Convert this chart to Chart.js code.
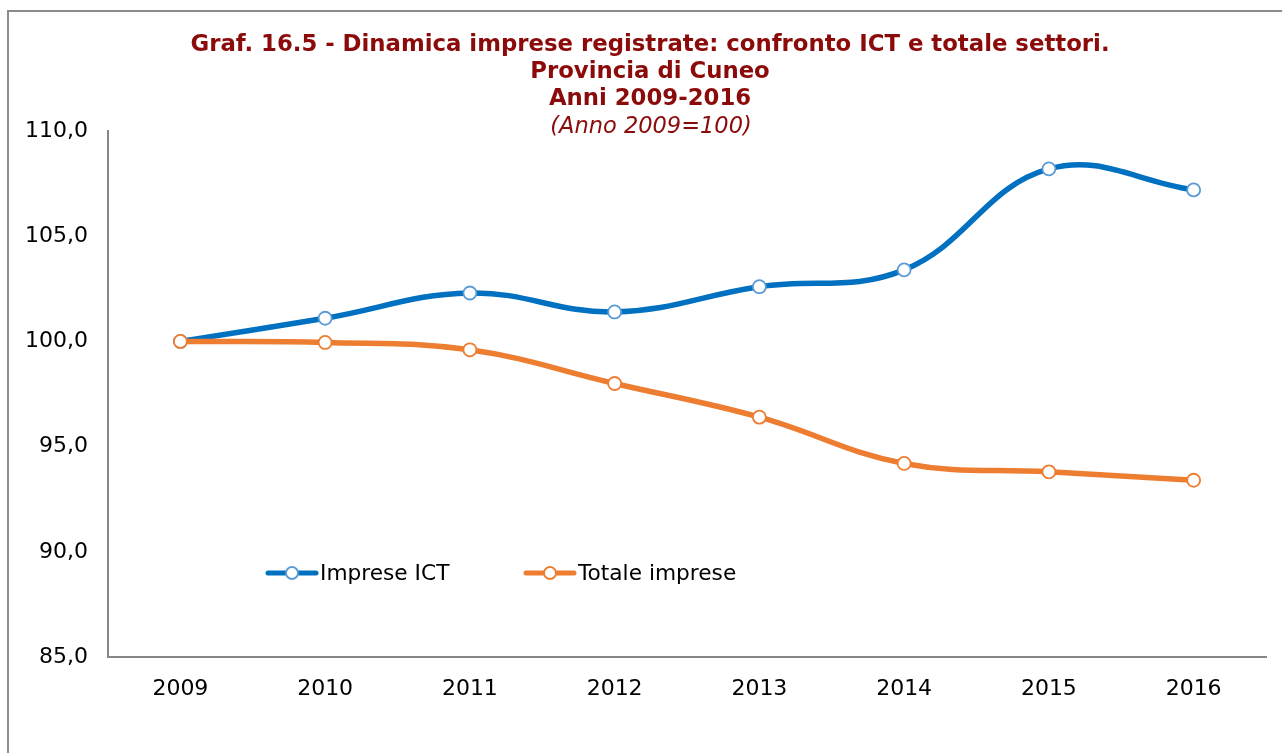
<!DOCTYPE html>
<html>
<head>
<meta charset="utf-8">
<script src="https://cdn.jsdelivr.net/npm/chart.js@4.4.0/dist/chart.umd.min.js"></script>
<style>
html,body{margin:0;padding:0;background:#fff;}
#wrap{position:relative;width:1282px;height:753px;}
</style>
</head>
<body>
<div id="wrap"><canvas id="c" width="1282" height="753"></canvas></div>
<script>
const categories = ["2009","2010","2011","2012","2013","2014","2015","2016"];
const ictValues = [100.0, 101.1, 102.3, 101.4, 102.6, 103.4, 108.2, 107.2];
const totaleValues = [100.0, 99.95, 99.6, 98.0, 96.4, 94.2, 93.8, 93.4];
const seriesNames = ["Imprese ICT", "Totale imprese"];
const titleLines = ["Graf. 16.5 - Dinamica imprese registrate: confronto ICT e totale settori.", "Provincia di Cuneo", "Anni 2009-2016"];
const subtitleText = "(Anno 2009=100)";
const yTicks = {min: 85, max: 110, step: 5};

const BLUE = "#0070C0", BLUE_PT = "#5B9BD5", ORANGE = "#ED7D31", TITLE_COL = "#8B0A0A";

const decor = {
  id: "decor",
  beforeDraw(chart) {
    const ctx = chart.ctx;
    ctx.save();
    ctx.strokeStyle = "#8c8c8c";
    ctx.lineWidth = 2;
    ctx.beginPath();
    ctx.moveTo(8, 753);
    ctx.lineTo(8, 11);
    ctx.lineTo(1282, 11);
    ctx.stroke();
    ctx.restore();
  },
  afterDraw(chart) {
    const ctx = chart.ctx;
    ctx.save();
    ctx.fillStyle = TITLE_COL;
    ctx.textAlign = "center";
    ctx.textBaseline = "middle";
    ctx.font = "bold 22.8px 'DejaVu Sans'";
    const ys = [45, 72, 99];
    titleLines.forEach((t, i) => ctx.fillText(t, 650, ys[i]));
    ctx.font = "italic 22.5px 'DejaVu Sans'";
    ctx.fillText(subtitleText, 651, 127);
    // legend
    const items = [
      {x: 268, color: BLUE, pt: BLUE_PT, label: seriesNames[0]},
      {x: 526, color: ORANGE, pt: ORANGE, label: seriesNames[1]}
    ];
    const ly = 573;
    ctx.font = "21.7px 'DejaVu Sans'";
    ctx.textAlign = "left";
    items.forEach(it => {
      ctx.strokeStyle = it.color;
      ctx.lineWidth = 5;
      ctx.lineCap = "round";
      ctx.beginPath();
      ctx.moveTo(it.x, ly);
      ctx.lineTo(it.x + 48, ly);
      ctx.stroke();
      ctx.beginPath();
      ctx.arc(it.x + 24, ly, 6, 0, Math.PI * 2);
      ctx.fillStyle = "#fff";
      ctx.fill();
      ctx.lineWidth = 1.8;
      ctx.strokeStyle = it.pt;
      ctx.stroke();
      ctx.fillStyle = "#000";
      ctx.fillText(it.label, it.x + 52, ly + 1);
    });
    ctx.restore();
  }
};

const pointStyle = (c) => ({
  borderColor: c.line,
  borderWidth: 5.5,
  pointRadius: 6.5,
  pointHoverRadius: 6.5,
  pointBackgroundColor: "#fff",
  pointBorderColor: c.pt,
  pointBorderWidth: 1.8,
  tension: 0.4,
  fill: false
});

new Chart(document.getElementById("c"), {
  type: "line",
  data: {
    labels: categories,
    datasets: [
      Object.assign({label: seriesNames[1], data: totaleValues}, pointStyle({line: ORANGE, pt: ORANGE})),
      Object.assign({label: seriesNames[0], data: ictValues}, pointStyle({line: BLUE, pt: BLUE_PT}))
    ]
  },
  options: {
    responsive: false,
    animation: false,
    events: [],
    layout: {padding: {left: 0, top: 131, right: 16, bottom: 0}},
    plugins: {legend: {display: false}, title: {display: false}, tooltip: {enabled: false}},
    scales: {
      x: {
        offset: true,
        grid: {display: false, drawTicks: false},
        border: {display: true, color: "#868686", width: 2},
        ticks: {color: "#000", font: {family: "'DejaVu Sans'", size: 22}, padding: 19, maxRotation: 0},
        afterFit(s) { s.height = 96; }
      },
      y: {
        min: yTicks.min, max: yTicks.max,
        grid: {display: false, drawTicks: false},
        border: {display: true, color: "#868686", width: 2},
        ticks: {
          stepSize: yTicks.step, color: "#000", padding: 20,
          font: {family: "'DejaVu Sans'", size: 22},
          callback: v => v.toFixed(1).replace(".", ",")
        },
        afterFit(s) { s.width = 108; }
      }
    }
  },
  plugins: [decor]
});
</script>
</body>
</html>
